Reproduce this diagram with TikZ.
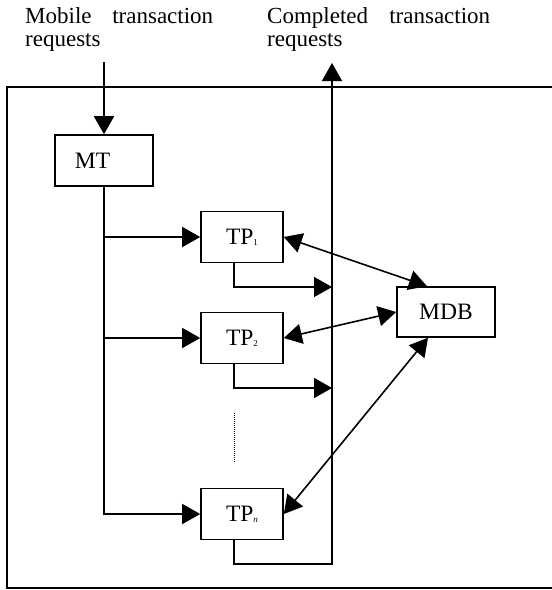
\documentclass[tikz,border=0pt]{standalone}
\usepackage{fontspec}
\setmainfont{Liberation Serif}
\usetikzlibrary{arrows.meta,calc}
\begin{document}
\begin{tikzpicture}[x=1pt,y=-1pt,
  ln/.style={line width=1.6pt},
  arr/.style={ln,-{Triangle[length=18pt,width=20pt]}},
  darr/.style={ln,{Triangle[length=18pt,width=20pt]}-{Triangle[length=18pt,width=20pt]}},
  box/.style={draw,line width=1.6pt,inner sep=0pt,minimum height=51pt,
    font=\fontsize{23.5}{25}\selectfont},
  tpbox/.style={box,minimum width=82pt},
  lbl/.style={anchor=base west,inner sep=0pt,font=\fontsize{23}{24}\selectfont}
]
\useasboundingbox (0,0) rectangle (552,590);
% frame (open on the right)
\draw[ln] (552,87) -- (7,87) -- (7,588) -- (552,588);
% labels
\node[lbl] (lin1) at (25,23) {\makebox[188pt][s]{Mobile transaction}};
\node[lbl] (lin2) at (25,46.5) {requests};
\node[lbl] (lout1) at (267,23) {\makebox[223pt][s]{Completed transaction}};
\node[lbl] (lout2) at (267,46.5) {requests};
% boxes
\node[box,minimum width=98pt] (MT) at (104,160.5) {\makebox[98pt][l]{\hspace{20pt}MT}};
\node[tpbox] (TP1) at (242,237) {TP\raisebox{-1pt}{\fontsize{9}{9}\selectfont 1}};
\node[tpbox] (TP2) at (242,338) {TP\raisebox{-1pt}{\fontsize{9}{9}\selectfont 2}};
\node[tpbox] (TPn) at (242,514) {TP\raisebox{-1pt}{\fontsize{9}{9}\selectfont\itshape n}};
\node[box,minimum width=98pt,minimum height=50pt] (MDB) at (446,312) {MDB};
% coordinates
\coordinate (in) at (104,62);
\coordinate (out) at (332,63);
\coordinate (ret) at (332,564);
\coordinate (j1) at (332,287);
\coordinate (j2) at (332,388);
% input
\draw[arr] (in) -- (MT.north);
% distribution
\draw[arr] (MT.south) |- (TPn.west);
\draw[arr] (MT.south |- TP1.west) -- (TP1.west);
\draw[arr] (MT.south |- TP2.west) -- (TP2.west);
% outputs
\draw[arr] ([xshift=-8pt]TP1.south) |- (j1);
\draw[arr] ([xshift=-8pt]TP2.south) |- (j2);
\draw[arr] ([xshift=-8pt]TPn.south) |- (ret) -- (out);
% dots
\draw[line width=1pt,dash pattern=on 1pt off 1pt] (234,413) -- (234,463);
% MDB links
\draw[darr] (TP1.east) -- ([xshift=-19pt]MDB.north);
\draw[darr] (TP2.east) -- (MDB.west);
\draw[darr] (TPn.east) -- ([xshift=-18pt]MDB.south);
\end{tikzpicture}
\end{document}
